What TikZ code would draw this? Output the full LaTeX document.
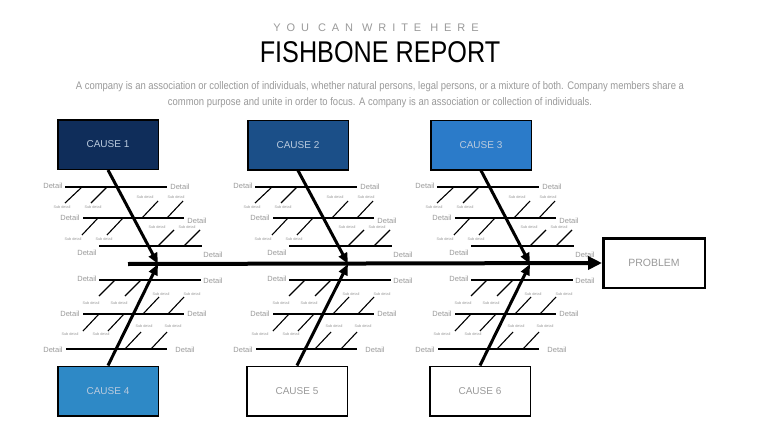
\documentclass[tikz,border=0pt]{standalone}
\usepackage{fontspec}
\setmainfont{Liberation Sans}
\newfontfamily\narrowfont[FakeStretch=0.84]{Liberation Sans}
\newfontfamily\blurbfont[FakeStretch=0.86]{Liberation Sans}
\usetikzlibrary{arrows.meta}
\usetikzlibrary{positioning}

\definecolor{causeuno}{HTML}{0F2D5A}
\definecolor{causedos}{HTML}{1B4F88}
\definecolor{causetres}{HTML}{2B7BC9}
\definecolor{causecuatro}{HTML}{2E89C6}
\definecolor{boxtext}{HTML}{B9CADD}
\definecolor{softgray}{HTML}{9A9A9A}

\begin{document}
\begin{tikzpicture}[x=1pt, y=-1pt,
    causebox/.style={draw=black, line width=1.5pt, minimum width=100.5pt, minimum height=49.5pt, inner sep=0pt, font=\fontsize{10}{12}\selectfont},
    lbl/.style={inner sep=0pt, text=softgray, font=\fontsize{7.5}{9}\selectfont},
    sublbl/.style={inner sep=0pt, text=softgray, font=\fontsize{3.8}{5}\selectfont},
    rib/.style={line width=2pt},
    twig/.style={line width=1.1pt},
    bone/.style={line width=3pt, -{Triangle[length=11pt, width=9pt]}},
    spine/.style={line width=4pt, -{Triangle[length=14pt, width=13pt]}}]

    \path[fill=white, use as bounding box] (0,0) rectangle (760,428);

    % Encabezado
    \node[text=softgray, font=\fontsize{11}{13}\selectfont\addfontfeatures{LetterSpace=54}] (kicker) at (376,28) {YOU CAN WRITE HERE};
    \node[font=\narrowfont\fontsize{30}{34}\selectfont] (title) at (380,52) {FISHBONE REPORT};
    \node[text=softgray, align=center, font=\blurbfont\fontsize{11}{16}\selectfont] (blurb) at (380,95)
        {A company is an association or collection of individuals, whether natural persons, legal persons, or a mixture of both. Company members share a\\
         common purpose and unite in order to focus. A company is an association or collection of individuals.};

    % Causas y problema
    \node[causebox, fill=causeuno, text=boxtext] (c1) at (108,144.5) {CAUSE 1};
    \node[causebox, fill=causedos, text=boxtext] (c2) at (298,145) {CAUSE 2};
    \node[causebox, fill=causetres, text=boxtext] (c3) at (481,145) {CAUSE 3};
    \node[causebox, fill=causecuatro, text=boxtext] (c4) at (108,391) {CAUSE 4};
    \node[causebox, fill=white, text=softgray] (c5) at (297,391) {CAUSE 5};
    \node[causebox, fill=white, text=softgray] (c6) at (480,391) {CAUSE 6};
    \node[draw=black, line width=2.5pt, minimum width=101.5pt, minimum height=49.5pt, inner sep=0pt,
          text=softgray, font=\fontsize{10.5}{12}\selectfont] (problem) at (654,263) {PROBLEM};

    % Detalles arriba de la espina
    \foreach \g/\dx in {1/0, 2/190, 3/372} {
        \begin{scope}[xshift=\dx]
            \foreach \k/\xa/\xb/\y/\lx/\ly/\rx/\ry in {1/65/167/187/53/186/180/187, 2/83/184/218/70/218/197/221, 3/99/202/246/87/253/213/255} {
                \coordinate (rb\g-\k-a) at (\xa,\y);
                \coordinate (rb\g-\k-b) at (\xb,\y);
                \draw[rib] (rb\g-\k-a) -- (rb\g-\k-b);
                \node[lbl] (dl\g-\k) at (\lx,\ly) {Detail};
                \node[lbl] (dr\g-\k) at (\rx,\ry) {Detail};
            }
            \foreach \k/\xa/\ya/\xb/\yb/\sx/\sy in {1/82/187/65/203/62/207, 2/107/187/91/203/93/207, 3/142/218/158/201/145/197, 4/167/218/183/201/176/197,
                                                  5/98/218/82/235/73/239, 6/123/218/107/235/104/239, 7/158/246/174/230/157/227, 8/184/246/200/230/187/227} {
                \coordinate (tw\g-\k-a) at (\xa,\ya);
                \coordinate (tw\g-\k-b) at (\xb,\yb);
                \draw[twig] (tw\g-\k-a) -- (tw\g-\k-b);
                \node[sublbl] (sd\g-\k) at (\sx,\sy) {Sub detail};
            }
        \end{scope}
    }

    % Detalles abajo de la espina
    \foreach \g/\dx in {4/0, 5/190, 6/372} {
        \begin{scope}[xshift=\dx]
            \foreach \k/\xa/\xb/\y/\lx/\ly/\rx/\ry in {1/99/201/280/87/279/213/281, 2/83/184/314/70/314/197/314, 3/66/167/349/53/350/185/350} {
                \coordinate (rb\g-\k-a) at (\xa,\y);
                \coordinate (rb\g-\k-b) at (\xb,\y);
                \draw[rib] (rb\g-\k-a) -- (rb\g-\k-b);
                \node[lbl] (dl\g-\k) at (\lx,\ly) {Detail};
                \node[lbl] (dr\g-\k) at (\rx,\ry) {Detail};
            }
            \foreach \k/\xa/\ya/\xb/\yb/\sx/\sy in {1/115/280/99/296/91/303, 2/141/280/125/296/119/303, 3/143/314/159/297/161/294, 4/168/314/184/297/192/294,
                                                  5/99/314/83/331/70/334, 6/124/314/108/331/101/334, 7/125/349/141/332/144/326, 8/151/349/167/332/173/326} {
                \coordinate (tw\g-\k-a) at (\xa,\ya);
                \coordinate (tw\g-\k-b) at (\xb,\yb);
                \draw[twig] (tw\g-\k-a) -- (tw\g-\k-b);
                \node[sublbl] (sd\g-\k) at (\sx,\sy) {Sub detail};
            }
        \end{scope}
    }

    % Espinas principales
    \foreach \g/\dx in {1/0, 2/190, 3/372} {
        \coordinate (tip\g) at (158+\dx,264);
    }
    \draw[bone] (c1.south) -- (tip1);
    \draw[bone] (c2.south) -- (tip2);
    \draw[bone] (c3.south) -- (tip3);
    \draw[bone] (c4.north) -- (tip1);
    \draw[bone] (c5.north) -- (tip2);
    \draw[bone] (c6.north) -- (tip3);

    % Espina central
    \coordinate (tail) at (128,264);
    \draw[spine] (tail) -- (problem.west);
\end{tikzpicture}
\end{document}
